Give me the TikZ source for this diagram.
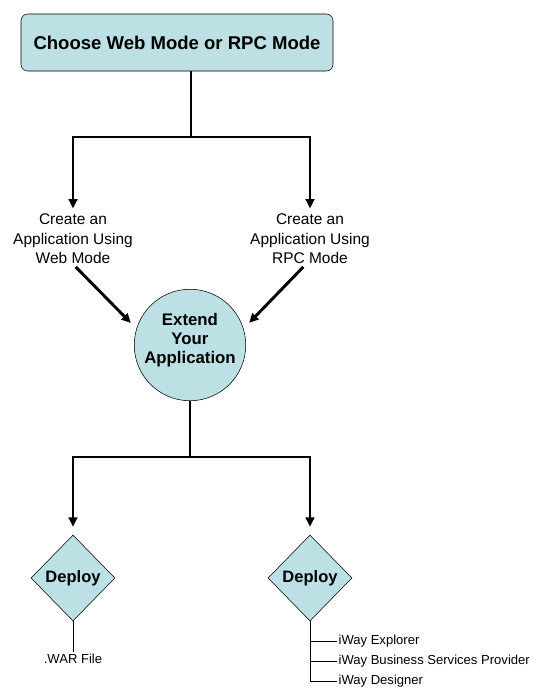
\documentclass[tikz,border=0pt]{standalone}
\usepackage{fontspec}
\setmainfont{Liberation Sans}
\usetikzlibrary{positioning}
\usetikzlibrary{shapes.geometric}
\usetikzlibrary{arrows.meta}
\definecolor{stepblue}{RGB}{188,224,228}

\tikzset{
  flow/.style={line width=2.2pt, -{Triangle[length=7pt,width=6.5pt]}},
  trunk/.style={line width=2.2pt},
  twig/.style={line width=0.75pt},
  startbox/.style={draw, fill=stepblue, rounded corners=5pt, minimum width=234pt,
    minimum height=42.75pt, font=\bfseries\fontsize{13.9}{16}\selectfont},
  extendcircle/.style={draw, circle, fill=stepblue, minimum size=82.5pt, inner sep=0pt,
    align=center, text depth=10.5pt, font=\bfseries\fontsize{12.6}{14.3}\selectfont},
  deploybox/.style={draw, diamond, fill=stepblue, minimum width=63pt, minimum height=64.5pt,
    inner sep=0pt, font=\bfseries\fontsize{12.4}{14}\selectfont},
  modetext/.style={align=center, inner sep=2pt, font=\fontsize{11.6}{14.6}\selectfont},
  smalltext/.style={inner sep=1pt, font=\fontsize{9.8}{11}\selectfont}
}

\begin{document}
\begin{tikzpicture}[x=0.75pt,y=-0.75pt]
\useasboundingbox (0,0) rectangle (543,697);

% start
\node[startbox] (choose) at (177,42.5) {Choose Web Mode or RPC Mode};
\coordinate (fork1) at (191,137);
\draw[trunk] (choose.south -| fork1) -- (fork1);

% the two modes
\node[modetext] (web) at (73,239) {Create an\\Application Using\\Web Mode};
\node[modetext] (rpc) at (310,239) {Create an\\Application Using\\RPC Mode};
\draw[flow, shorten >=2pt] (fork1) -| (web.north);
\draw[flow, shorten >=2pt] (fork1) -| (rpc.north);

% extend
\node[extendcircle] (extend) at (190,345) {Extend\\Your\\Application};
\draw[flow, shorten >=6pt] ([xshift=2]web.south) -- (extend.163);
\draw[flow, shorten >=6pt] ([xshift=-5]rpc.south) -- (extend.17);

% deploy
\coordinate (fork2) at (190,457);
\node[deploybox] (deployweb) at (73,578) {Deploy};
\node[deploybox] (deployrpc) at (310,578) {Deploy};
\draw[trunk] (extend.south) -- (fork2);
\draw[flow, shorten >=6pt] (fork2) -| (deployweb.north);
\draw[flow, shorten >=6pt] (fork2) -| (deployrpc.north);

% web mode target
\node[smalltext, anchor=north] (war) at (73,652) {.WAR File};
\draw[twig] (deployweb.south) -- (war.north);

% rpc mode targets
\node[smalltext, anchor=west] (explorer) at (337,641) {iWay Explorer};
\node[smalltext, anchor=west] (bsp) at (337,661) {iWay Business Services Provider};
\node[smalltext, anchor=west] (designer) at (337,681) {iWay Designer};
\draw[twig] (deployrpc.south) |- (designer.west);
\draw[twig] (deployrpc.south |- explorer.west) -- (explorer.west);
\draw[twig] (deployrpc.south |- bsp.west) -- (bsp.west);

\end{tikzpicture}
\end{document}
